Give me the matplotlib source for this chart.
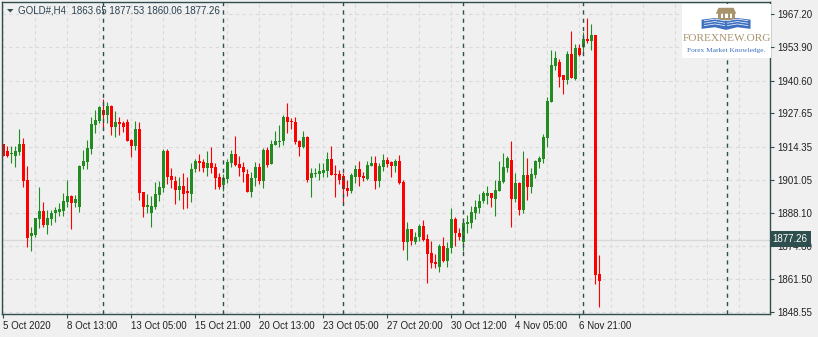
import numpy as np
import matplotlib
matplotlib.use("Agg")
import matplotlib.pyplot as plt
from matplotlib.patches import Rectangle, Polygon
from matplotlib.transforms import blended_transform_factory

plt.rcParams['font.family'] = ['Liberation Sans', 'DejaVu Sans']

#%% data (GOLD#, H4 candles)
opens = [1915.4, 1912.6, 1911.3, 1910.8, 1912.4, 1915.4, 1901.1, 1879.0, 1879.2, 1885.6,
         1888.8, 1883.2, 1885.6, 1887.8, 1888.5, 1888.9, 1892.5, 1894.7, 1892.1, 1890.2,
         1906.8, 1908.3, 1913.4, 1923.0, 1924.7, 1929.0, 1926.9, 1930.6, 1922.3, 1924.3,
         1923.9, 1924.2, 1917.0, 1914.8, 1921.4, 1896.2, 1890.2, 1888.1, 1890.5, 1895.1,
         1898.0, 1912.6, 1902.7, 1900.7, 1897.1, 1898.7, 1896.7, 1895.5, 1905.3, 1908.7,
         1908.3, 1905.8, 1908.0, 1906.4, 1902.2, 1899.1, 1901.5, 1908.0, 1911.5, 1907.5,
         1906.1, 1903.5, 1896.5, 1901.8, 1906.4, 1900.9, 1913.0, 1907.5, 1915.0, 1916.2,
         1916.6, 1926.3, 1924.6, 1924.2, 1916.6, 1914.4, 1918.4, 1901.8, 1903.5, 1903.5,
         1904.0, 1904.8, 1909.5, 1903.6, 1903.5, 1902.7, 1898.0, 1896.9, 1902.4, 1905.5,
         1902.7, 1901.5, 1906.7, 1908.0, 1900.7, 1906.4, 1909.1, 1908.4, 1906.8, 1908.7,
         1900.4, 1876.6, 1881.6, 1876.6, 1878.3, 1882.8, 1877.6, 1871.9, 1868.4, 1866.6,
         1874.8, 1868.9, 1873.9, 1885.6, 1880.1, 1876.5, 1883.5, 1884.1, 1888.1, 1890.1,
         1892.7, 1894.9, 1896.1, 1893.5, 1896.9, 1900.4, 1906.0, 1909.1, 1893.5, 1900.0,
         1889.2, 1903.1, 1898.5, 1903.1, 1908.1, 1909.5, 1918.0, 1932.3, 1946.6, 1947.9,
         1942.9, 1940.9, 1951.3, 1941.3, 1953.8, 1954.2, 1957.2, 1956.4, 1958.8, 1863.7]
highs = [1915.6, 1914.5, 1914.6, 1914.6, 1921.4, 1917.9, 1906.7, 1882.3, 1886.0, 1898.3,
         1892.5, 1889.2, 1889.2, 1890.5, 1891.8, 1895.8, 1901.1, 1895.2, 1895.2, 1907.1,
         1913.0, 1917.0, 1926.1, 1929.0, 1930.6, 1933.2, 1932.2, 1931.0, 1928.6, 1926.3,
         1924.7, 1925.3, 1917.3, 1924.7, 1924.2, 1896.4, 1895.5, 1894.7, 1900.4, 1900.7,
         1913.3, 1913.3, 1905.8, 1902.7, 1902.4, 1904.0, 1902.4, 1908.0, 1909.3, 1911.3,
         1909.3, 1912.6, 1914.4, 1907.7, 1903.8, 1903.4, 1909.3, 1913.0, 1918.6, 1910.7,
         1908.4, 1905.4, 1904.2, 1908.1, 1908.0, 1914.0, 1914.4, 1917.0, 1920.6, 1923.0,
         1927.0, 1931.6, 1925.6, 1926.3, 1917.0, 1920.6, 1918.6, 1906.0, 1906.0, 1907.7,
         1907.7, 1912.4, 1914.6, 1907.1, 1905.1, 1903.8, 1901.1, 1904.0, 1907.1, 1908.7,
         1904.4, 1908.7, 1910.8, 1910.8, 1908.0, 1911.5, 1910.4, 1908.7, 1909.5, 1911.0,
         1901.1, 1884.5, 1881.6, 1880.3, 1883.6, 1885.2, 1879.6, 1876.8, 1871.6, 1875.6,
         1878.3, 1876.3, 1889.8, 1886.3, 1881.8, 1885.8, 1887.2, 1890.7, 1893.1, 1895.4,
         1896.7, 1898.7, 1896.1, 1901.1, 1908.7, 1911.7, 1910.8, 1916.6, 1904.0, 1900.4,
         1912.6, 1909.7, 1905.8, 1909.1, 1910.8, 1919.4, 1934.3, 1952.9, 1952.5, 1949.1,
         1942.9, 1952.5, 1960.4, 1955.1, 1955.1, 1959.9, 1965.5, 1963.2, 1958.8, 1871.2]
lows = [1910.5, 1910.3, 1908.0, 1906.4, 1911.0, 1898.4, 1874.5, 1872.9, 1878.5, 1881.9,
        1882.5, 1879.5, 1883.0, 1884.5, 1886.8, 1886.8, 1890.5, 1881.7, 1890.5, 1888.5,
        1905.3, 1905.3, 1911.4, 1919.7, 1923.9, 1921.0, 1923.9, 1919.0, 1918.4, 1919.0,
        1920.3, 1916.5, 1910.4, 1913.0, 1893.1, 1886.5, 1887.8, 1882.5, 1889.4, 1892.9,
        1896.5, 1899.5, 1897.8, 1891.6, 1893.1, 1889.6, 1889.8, 1892.2, 1904.2, 1904.8,
        1904.2, 1902.8, 1904.0, 1897.5, 1897.5, 1896.9, 1899.8, 1906.4, 1906.7, 1902.8,
        1900.4, 1896.5, 1894.5, 1898.8, 1899.5, 1897.8, 1906.4, 1907.5, 1915.0, 1914.4,
        1915.0, 1919.9, 1921.3, 1915.3, 1910.8, 1913.7, 1900.4, 1894.5, 1902.4, 1901.1,
        1902.4, 1902.4, 1903.1, 1894.5, 1899.5, 1891.4, 1894.9, 1896.1, 1900.0, 1898.8,
        1900.7, 1901.1, 1906.7, 1897.5, 1898.5, 1904.8, 1906.4, 1902.4, 1904.4, 1899.5,
        1873.2, 1869.2, 1875.2, 1875.6, 1876.9, 1876.9, 1860.2, 1865.9, 1865.9, 1864.6,
        1868.6, 1866.6, 1872.2, 1874.8, 1877.2, 1872.9, 1879.9, 1881.8, 1885.6, 1887.8,
        1892.1, 1891.6, 1890.5, 1886.9, 1896.9, 1900.0, 1904.4, 1882.5, 1892.5, 1887.2,
        1887.8, 1893.1, 1896.1, 1901.8, 1905.8, 1907.7, 1914.4, 1932.3, 1944.9, 1938.3,
        1935.3, 1939.2, 1941.6, 1940.9, 1950.5, 1951.8, 1955.5, 1952.9, 1859.7, 1850.7]
closes = [1910.8, 1910.8, 1911.7, 1912.6, 1915.4, 1900.7, 1878.1, 1880.0, 1885.8, 1888.8,
          1883.2, 1886.0, 1888.1, 1889.2, 1889.5, 1892.7, 1894.7, 1891.9, 1893.5, 1906.7,
          1908.7, 1913.8, 1923.4, 1925.0, 1930.3, 1927.0, 1930.6, 1922.3, 1924.2, 1923.4,
          1922.3, 1916.8, 1914.8, 1921.4, 1896.0, 1890.5, 1891.1, 1890.8, 1895.5, 1898.5,
          1912.6, 1902.4, 1901.1, 1897.1, 1898.7, 1895.5, 1895.8, 1905.5, 1908.5, 1907.7,
          1905.8, 1908.0, 1906.0, 1902.0, 1898.5, 1901.8, 1908.1, 1911.5, 1907.1, 1906.0,
          1904.2, 1896.5, 1901.8, 1906.4, 1900.9, 1913.0, 1907.1, 1915.4, 1916.6, 1916.6,
          1926.3, 1924.3, 1924.3, 1916.1, 1914.4, 1918.4, 1901.1, 1904.0, 1904.0, 1904.8,
          1905.1, 1909.5, 1903.1, 1903.2, 1901.1, 1897.5, 1896.7, 1903.1, 1905.5, 1902.4,
          1902.0, 1907.1, 1908.0, 1900.9, 1906.8, 1909.1, 1907.5, 1906.8, 1908.7, 1900.0,
          1876.5, 1881.6, 1876.9, 1878.4, 1882.8, 1877.2, 1871.6, 1868.2, 1867.7, 1874.8,
          1869.0, 1873.9, 1885.6, 1879.9, 1878.5, 1884.1, 1884.5, 1888.4, 1890.4, 1892.7,
          1895.8, 1896.1, 1893.8, 1897.1, 1900.7, 1906.4, 1909.7, 1893.5, 1900.0, 1889.2,
          1903.1, 1898.5, 1903.5, 1908.7, 1910.0, 1918.4, 1932.5, 1946.9, 1949.5, 1942.2,
          1940.9, 1951.3, 1941.6, 1953.8, 1950.9, 1957.1, 1956.4, 1958.8, 1863.3, 1861.0]

price_ticks = [1967.20, 1953.90, 1940.60, 1927.65, 1914.35, 1901.05, 1888.10, 1874.80, 1861.50, 1848.55]
time_labels = ["5 Oct 2020", "8 Oct 13:00", "13 Oct 05:00", "15 Oct 21:00", "20 Oct 13:00",
               "23 Oct 05:00", "27 Oct 20:00", "30 Oct 12:00", "4 Nov 05:00", "6 Nov 21:00"]
time_label_bars = [0, 16, 32, 48, 64, 80, 96, 112, 128, 144]
separator_bars = [25, 55, 85, 115, 145, 181]
bid = 1877.26
header = "GOLD#,H4  1863.65 1877.53 1860.06 1877.26"

#%% plot
bg = '#f0f0f0'
frame = '#2f4f4f'
grid_c = '#dadada'

fig = plt.figure(figsize=(8.18, 3.37), dpi=100, facecolor=bg)
ax = fig.add_axes([2/818, 23/337, 768/818, 312/337])
ax.set_facecolor(bg)

o = np.array(opens); h = np.array(highs); l = np.array(lows); c = np.array(closes)
x = np.arange(len(o))
colors = np.where(c >= o, '#228b22', '#ff0000')

# grid
for v in price_ticks:
    ax.axhline(v, color=grid_c, lw=0.8, ls=(0, (3, 3)), zorder=0)
for i in range(0, 192, 8):
    ax.axvline(i, color=grid_c, lw=0.8, ls=(0, (3, 3)), zorder=0)
ax.axhline(bid, color='#d8d8d8', lw=1.0, zorder=0.5)

# candles
ax.vlines(x, l, h, colors=colors, linewidth=0.8, zorder=2)
ax.bar(x, np.maximum(np.abs(c - o), 0.4), bottom=np.minimum(o, c), width=0.75,
       color=colors, linewidth=0, zorder=2)

# period separators
for s in separator_bars:
    ax.axvline(s, color=frame, lw=1.0, ls=(0, (3, 3)), zorder=3)

ax.set_xlim(-0.325, 191.675)
ax.set_ylim(1847.75, 1971.97)

for sp in ax.spines.values():
    sp.set_color(frame)
    sp.set_linewidth(1.0)

ax.yaxis.tick_right()
ax.set_yticks(price_ticks)
ax.set_yticklabels([f"{v:.2f}" for v in price_ticks])
ax.set_xticks(time_label_bars)
ax.set_xticklabels(time_labels, ha='left')
ax.tick_params(axis='both', direction='out', length=3, width=0.8, color=frame,
               labelsize=7, labelcolor='#222222')
ax.tick_params(axis='y', pad=2)
ax.tick_params(axis='x', pad=2)

# current price box (covers most of the 1874.80 label, as in the terminal)
tr = blended_transform_factory(ax.transAxes, ax.transData)
ax.text(1.0035, bid + 0.3, f"{bid:.2f}", transform=tr, ha='left', va='center', fontsize=7,
        color='white', zorder=10, clip_on=False,
        bbox=dict(boxstyle='square,pad=0.32', fc=frame, ec='none'))

# header
fig.text(18/818, 1 - 10.5/337, header, fontsize=7, color='#2a4150', va='center', ha='left')
fig.add_artist(Polygon([(7/818, 1 - 9/337), (13.5/818, 1 - 9/337), (10.25/818, 1 - 12.5/337)],
                       closed=True, transform=fig.transFigure, fc=frame, ec='none'))

# logo
lg = fig.add_axes([682/818, (337 - 58)/337, 89/818, 54/337])
lg.set_xlim(0, 1)
lg.set_ylim(0, 1)
lg.set_axis_off()
lg.add_patch(Rectangle((0, 0), 1, 1, fc='white', ec='none'))
tan = '#a8946c'
blue = '#3d6fc0'
lg.add_patch(Polygon([(0.38, 0.82), (0.61, 0.82), (0.58, 0.93), (0.41, 0.93)], fc=tan, ec='none'))
for cx in [0.42, 0.473, 0.527, 0.58]:
    lg.add_patch(Rectangle((cx - 0.013, 0.735), 0.026, 0.09, fc=tan, ec='none'))
lg.add_patch(Rectangle((0.39, 0.71), 0.22, 0.03, fc=tan, ec='none'))
lg.add_patch(Polygon([(0.22, 0.71), (0.37, 0.74), (0.495, 0.69), (0.495, 0.52), (0.37, 0.57), (0.22, 0.54)],
                     fc=blue, ec='none'))
lg.add_patch(Polygon([(0.77, 0.71), (0.62, 0.74), (0.495, 0.69), (0.495, 0.52), (0.62, 0.57), (0.77, 0.54)],
                     fc=blue, ec='none'))
for dy in [0.0, 0.045, 0.09]:
    lg.plot([0.25, 0.37, 0.48], [0.60 + dy, 0.63 + dy, 0.60 + dy], color='white', lw=0.5)
    lg.plot([0.51, 0.62, 0.74], [0.60 + dy, 0.63 + dy, 0.60 + dy], color='white', lw=0.5)
lg.text(0.5, 0.37, "FOREXNEW.ORG", ha='center', va='center', fontsize=8.1, color=tan,
        family='Liberation Serif')
lg.text(0.5, 0.14, "Forex Market Knowledge.", ha='center', va='center', fontsize=5.3,
        color=blue, family='Liberation Serif')

fig.savefig("out.png", dpi=100, facecolor=bg)
